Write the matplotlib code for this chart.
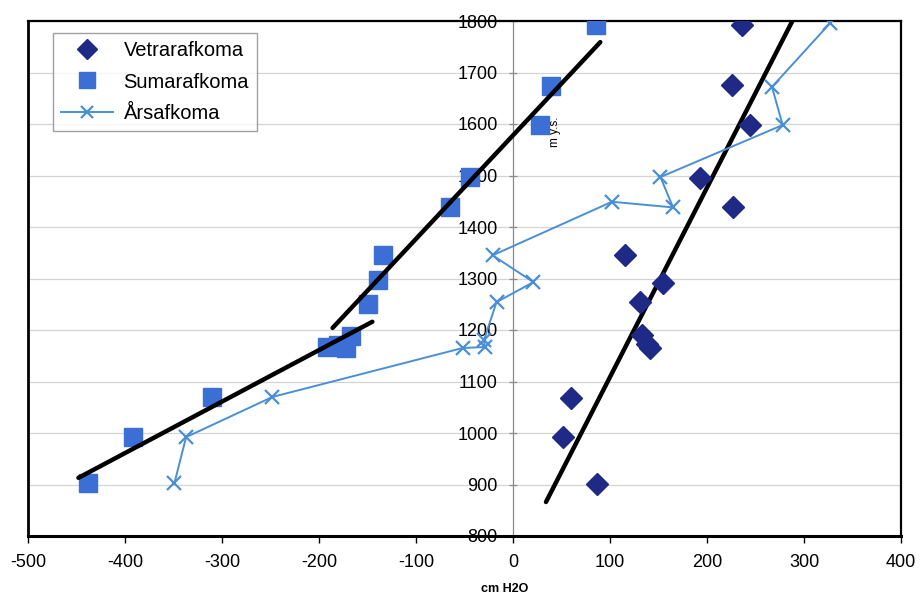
import matplotlib
matplotlib.use("Agg")
import matplotlib.pyplot as plt

plt.rcParams['font.family'] = ['Liberation Sans', 'DejaVu Sans']
plt.rcParams['axes.unicode_minus'] = False

# Winter balance (cm H2O) by elevation (m a.s.l.)
winter_elev = [1792, 1676, 1598, 1496, 1438, 1345, 1291, 1254, 1190, 1172, 1165, 1068, 992, 901]
winter_val = [236, 226, 244, 193, 227, 115, 155, 131, 133, 138, 141, 60, 52, 87]

# Summer balance
summer_elev = [1792, 1674, 1598, 1497, 1439, 1345, 1297, 1250, 1188, 1170, 1167, 1165, 1070, 992, 903]
summer_val = [86, 39, 28, -44, -65, -134, -139, -149, -167, -180, -192, -172, -310, -392, -438]

# Annual balance
annual_elev = [1796, 1672, 1598, 1497, 1438, 1449, 1345, 1293, 1254, 1180, 1167, 1165, 1070, 992, 903]
annual_val = [327, 267, 278, 152, 165, 102, -21, 21, -17, -30, -29, -52, -248, -337, -349]

# Fitted gradient lines (end points)
summer_low_x = [-448, -145]
summer_low_y = [913, 1216]
summer_high_x = [-186, 90]
summer_high_y = [1204, 1759]
winter_fit_x = [34, 288]
winter_fit_y = [866, 1800]

x_ticks = [-500, -400, -300, -200, -100, 0, 100, 200, 300, 400]
y_ticks = [800, 900, 1000, 1100, 1200, 1300, 1400, 1500, 1600, 1700, 1800]

fig = plt.figure(figsize=(9.22, 5.99), dpi=100)
ax = fig.add_axes([28 / 922, 1 - 536 / 599, 873 / 922, 515 / 599])

ax.set_xlim(-500, 400)
ax.set_ylim(800, 1800)

ax.yaxis.grid(True, color='#d4d4d4', lw=0.9)
ax.set_axisbelow(True)

# Black gradient lines
for xs, ys in [(summer_low_x, summer_low_y), (summer_high_x, summer_high_y),
               (winter_fit_x, winter_fit_y)]:
    ax.plot(xs, ys, color='black', lw=3.2, solid_capstyle='round', zorder=4)

ax.plot(winter_val, winter_elev, ls='none', marker='D', ms=11,
        color='#1f2a86', mec='#1f2a86', label='Vetrarafkoma', zorder=5)
ax.plot(summer_val, summer_elev, ls='none', marker='s', ms=12.5,
        color='#3b6fd6', mec='#3b6fd6', label='Sumarafkoma', zorder=3)
ax.plot(annual_val, annual_elev, ls='-', lw=1.4, marker='x', ms=10, mew=1.6,
        color='#4a8fd6', label='Årsafkoma', zorder=4)

# Frame: y axis crosses at x = 0, outer box drawn as black edges
ax.spines['left'].set_position(('data', 0))
ax.spines['left'].set_color('#8a8a8a')
ax.spines['left'].set_linewidth(0.9)
ax.axvline(-500, color='black', lw=2.0, zorder=6, clip_on=False)
ax.spines['right'].set_linewidth(1.6)
ax.spines['top'].set_linewidth(1.6)
ax.spines['bottom'].set_linewidth(2.2)

ax.set_xticks(x_ticks)
ax.set_yticks(y_ticks)
ax.tick_params(axis='x', direction='out', length=5, width=1, pad=8, labelsize=13)
ax.tick_params(axis='y', direction='inout', length=6, width=0.9, pad=8,
               labelsize=13, color='#8a8a8a')

leg = ax.legend(loc='upper left', bbox_to_anchor=(25 / 873, 1 - 12 / 515),
                borderaxespad=0, fontsize=14.5, frameon=True, fancybox=False,
                edgecolor='#8a8a8a', handlelength=2.6, handletextpad=0.5,
                labelspacing=0.62, borderpad=0.4, markerscale=0.9)
leg.get_frame().set_linewidth(1.0)

ax.text(43, 1585, 'm y.s.', rotation=90, fontsize=8.5, ha='center', va='center')
fig.text(505 / 922, 1 - 589 / 599, 'cm H2O', fontsize=9, fontweight='bold',
         ha='center', va='center')

fig.savefig('out.png', dpi=100)
